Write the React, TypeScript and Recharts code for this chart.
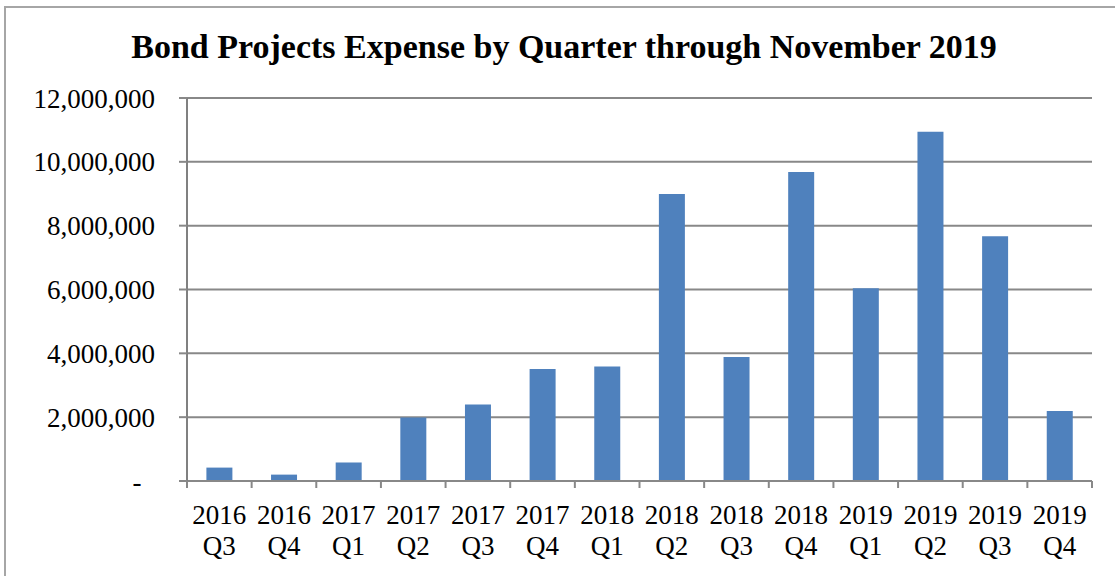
import React from "react";
import { BarChart, Bar, XAxis, YAxis, CartesianGrid } from "recharts";

// quarterly bond project expense
const quarters = [
  "2016 Q3", "2016 Q4", "2017 Q1", "2017 Q2", "2017 Q3", "2017 Q4", "2018 Q1",
  "2018 Q2", "2018 Q3", "2018 Q4", "2019 Q1", "2019 Q2", "2019 Q3", "2019 Q4",
];
const expense = [
  420000, 200000, 580000, 1990000, 2400000, 3510000, 3590000,
  8990000, 3885000, 9680000, 6040000, 10940000, 7670000, 2190000,
];
const yTicks = [0, 2000000, 4000000, 6000000, 8000000, 10000000, 12000000];
const title = "Bond Projects Expense by Quarter through November 2019";

const chartData = quarters.map((quarter, i) => ({ quarter, expense: expense[i] }));

const font = "'Liberation Serif', 'Times New Roman', serif";
const gray = "#888888";

// label in two lines, plus tick marks on the category boundaries (excel style)
function QuarterTick(props: any) {
  const { x, y, payload, width, visibleTicksCount, index } = props;
  const half = payload.offset || width / visibleTicksCount / 2;
  const [year, q] = String(payload.value).split(" ");
  const last = index === visibleTicksCount - 1;
  return (
    <g>
      <line x1={x - half} x2={x - half} y1={y} y2={y + 7} stroke={gray} strokeWidth={2} />
      {last && <line x1={x + half} x2={x + half} y1={y} y2={y + 7} stroke={gray} strokeWidth={2} />}
      <text x={x} textAnchor="middle" fontFamily={font} fontSize={27} fill="#000">
        <tspan x={x} y={y + 43}>{year}</tspan>
        <tspan x={x} y={y + 74}>{q}</tspan>
      </text>
    </g>
  );
}

export default function App() {
  return (
    <div style={{ position: "absolute", left: 0, top: 0, width: 1115, height: 576, overflow: "hidden", background: "#fff" }}>
      <div
        style={{
          position: "absolute", left: 4, top: 6, width: 1130, height: 600,
          border: "2px solid #a6a6a6",
        }}
      />
      <div
        style={{
          position: "absolute", left: 4, top: 30, width: 1120, textAlign: "center",
          fontFamily: font, fontWeight: "bold", fontSize: 34, lineHeight: "34px", color: "#000",
        }}
      >
        {title}
      </div>
      <div style={{ position: "absolute", left: 0, top: 0 }}>
        <BarChart
          width={1115}
          height={576}
          data={chartData}
          margin={{ top: 98, right: 23, bottom: 0, left: 0 }}
          barCategoryGap="30%"
        >
          <CartesianGrid vertical={false} stroke={gray} strokeWidth={2} />
          <XAxis
            dataKey="quarter"
            height={95}
            interval={0}
            axisLine={{ stroke: gray, strokeWidth: 2 }}
            tickLine={false}
            tickSize={0}
            tickMargin={0}
            tick={<QuarterTick />}
          />
          <YAxis
            width={187}
            domain={[0, 12000000]}
            ticks={yTicks}
            interval={0}
            tickSize={8}
            tickMargin={24}
            axisLine={{ stroke: "#808080", strokeWidth: 2 }}
            tickLine={{ stroke: gray, strokeWidth: 2 }}
            tick={{ fontFamily: font, fontSize: 27, fill: "#000" }}
            tickFormatter={(v: number) => (v === 0 ? "-\u00a0\u00a0" : v.toLocaleString("en-US"))}
          />
          <Bar dataKey="expense" fill="#4f81bd" isAnimationActive={false} />
        </BarChart>
      </div>
    </div>
  );
}
